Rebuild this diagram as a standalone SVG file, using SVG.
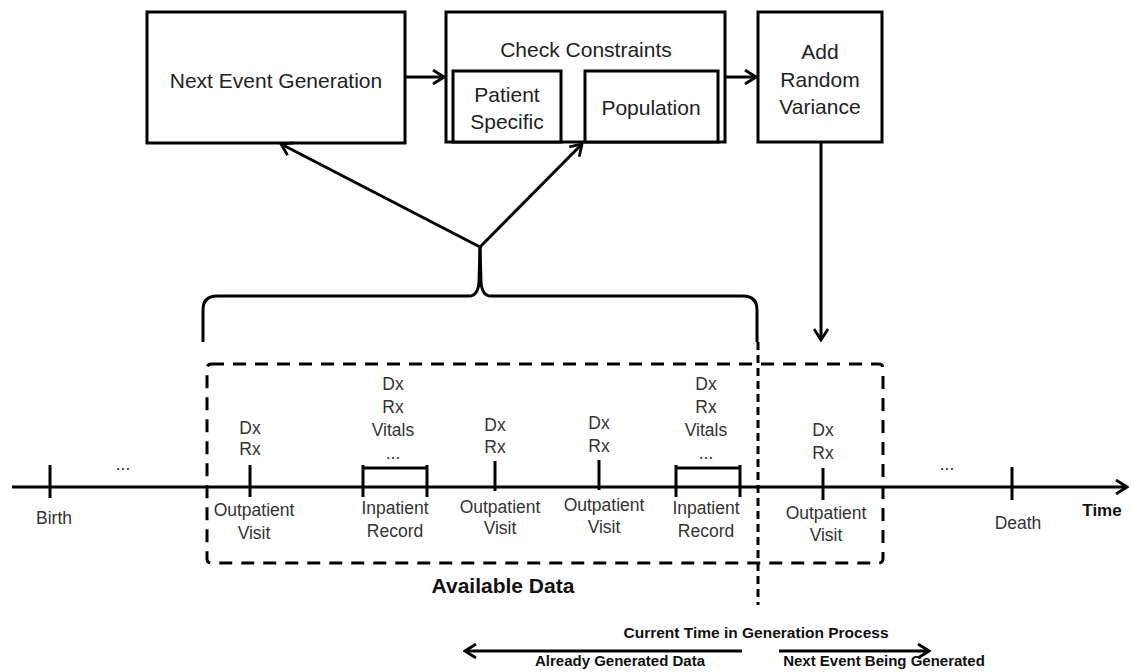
<svg xmlns="http://www.w3.org/2000/svg" width="1131" height="672" viewBox="0 0 1131 672">
<defs>
<marker id="arr" viewBox="0 0 14 16" refX="12" refY="8" markerWidth="14" markerHeight="16" markerUnits="userSpaceOnUse" orient="auto">
<path d="M1,1 L12,8 L1,15" fill="none" stroke="#000" stroke-width="2.8"/>
</marker>
</defs>
<style>
.box{fill:#fff;stroke:#000;stroke-width:3}
.ln{fill:none;stroke:#000;stroke-width:3}
.tk{stroke:#000;stroke-width:3}
.dash{fill:none;stroke:#000;stroke-width:3;stroke-dasharray:13 9}
.bt{font-family:"Liberation Sans",Arial,sans-serif;font-size:21px;fill:#222;text-anchor:middle}
.t{font-family:"Liberation Sans",Arial,sans-serif;font-size:17.5px;fill:#333;text-anchor:middle}
.b{font-family:"Liberation Sans",Arial,sans-serif;font-weight:bold;fill:#111;text-anchor:middle}
</style>
<rect width="1131" height="672" fill="#fff"/>

<g id="next-event-generation">
<rect class="box" x="147" y="12" width="258" height="131"/>
<text class="bt" x="276" y="88">Next Event Generation</text>
</g>
<g id="check-constraints">
<rect class="box" x="446" y="12" width="279" height="130"/>
<text class="bt" x="586" y="57">Check Constraints</text>
</g>
<g id="patient-specific">
<rect class="box" x="453" y="71" width="108" height="71"/>
<text class="bt" x="507" y="102">Patient</text>
<text class="bt" x="507" y="129">Specific</text>
</g>
<g id="population">
<rect class="box" x="585" y="71" width="133" height="71"/>
<text class="bt" x="651" y="115">Population</text>
</g>
<g id="add-random-variance">
<rect class="box" x="758" y="12" width="124" height="130"/>
<text class="bt" x="820" y="59">Add</text>
<text class="bt" x="820" y="87">Random</text>
<text class="bt" x="820" y="114">Variance</text>
</g>

<g id="connectors">
<line class="ln" x1="405" y1="77" x2="444" y2="77" marker-end="url(#arr)"/>
<line class="ln" x1="725" y1="77" x2="756" y2="77" marker-end="url(#arr)"/>
<line class="ln" x1="821" y1="142" x2="821" y2="340" marker-end="url(#arr)"/>
<line class="ln" x1="480" y1="247" x2="281" y2="144" marker-end="url(#arr)"/>
<line class="ln" x1="480" y1="247" x2="582" y2="144" marker-end="url(#arr)"/>
<path class="ln" d="M203,342 L203,310 Q203,296 217,296 L469,296 Q478,296 479,282 L480,247"/>
<path class="ln" d="M757,342 L757,310 Q757,296 743,296 L491,296 Q482,296 481,282 L480,247"/>
<line class="ln" x1="742" y1="651" x2="465" y2="651" marker-end="url(#arr)"/>
<line class="ln" x1="779" y1="651" x2="929" y2="651" marker-end="url(#arr)"/>
</g>

<g id="available-data">
<rect class="dash" x="207" y="364" width="676" height="199" rx="4"/>
<text class="b" x="503" y="593" font-size="21">Available Data</text>
</g>

<g id="timeline">
<line class="ln" x1="12" y1="487" x2="1127" y2="487" marker-end="url(#arr)"/>
<text class="b" x="1102" y="516" font-size="17">Time</text>
</g>

<g id="birth">
<line class="tk" x1="50" y1="465" x2="50" y2="498"/>
<text class="t" x="54" y="524">Birth</text>
<text class="t" x="123" y="470">...</text>
</g>

<g id="outpatient-1">
<line class="tk" x1="250" y1="465" x2="250" y2="497"/>
<text class="t" x="250" y="434">Dx</text>
<text class="t" x="250" y="455">Rx</text>
<text class="t" x="254" y="516">Outpatient</text>
<text class="t" x="254" y="539">Visit</text>
</g>

<g id="inpatient-1">
<line class="tk" x1="363" y1="465" x2="363" y2="497"/>
<line class="tk" x1="427" y1="465" x2="427" y2="497"/>
<line class="tk" x1="363" y1="468" x2="427" y2="468"/>
<text class="t" x="393" y="390">Dx</text>
<text class="t" x="393" y="413">Rx</text>
<text class="t" x="393" y="436">Vitals</text>
<text class="t" x="393" y="459" font-size="12">...</text>
<text class="t" x="395" y="514">Inpatient</text>
<text class="t" x="395" y="537">Record</text>
</g>

<g id="outpatient-2">
<line class="tk" x1="495" y1="461" x2="495" y2="491"/>
<text class="t" x="495" y="431">Dx</text>
<text class="t" x="495" y="453">Rx</text>
<text class="t" x="500" y="513">Outpatient</text>
<text class="t" x="500" y="534">Visit</text>
</g>

<g id="outpatient-3">
<line class="tk" x1="599" y1="460" x2="599" y2="490"/>
<text class="t" x="599" y="429">Dx</text>
<text class="t" x="599" y="452">Rx</text>
<text class="t" x="604" y="511">Outpatient</text>
<text class="t" x="604" y="533">Visit</text>
</g>

<g id="inpatient-2">
<line class="tk" x1="676" y1="465" x2="676" y2="497"/>
<line class="tk" x1="740" y1="465" x2="740" y2="497"/>
<line class="tk" x1="676" y1="468" x2="740" y2="468"/>
<text class="t" x="706" y="390">Dx</text>
<text class="t" x="706" y="413">Rx</text>
<text class="t" x="706" y="436">Vitals</text>
<text class="t" x="706" y="459" font-size="12">...</text>
<text class="t" x="706" y="514">Inpatient</text>
<text class="t" x="706" y="537">Record</text>
</g>

<g id="outpatient-4">
<line class="tk" x1="823" y1="468" x2="823" y2="500"/>
<text class="t" x="823" y="436">Dx</text>
<text class="t" x="823" y="459">Rx</text>
<text class="t" x="826" y="519">Outpatient</text>
<text class="t" x="826" y="541">Visit</text>
</g>

<g id="death">
<text class="t" x="947" y="470">...</text>
<line class="tk" x1="1012" y1="467" x2="1012" y2="500"/>
<text class="t" x="1018" y="529">Death</text>
</g>

<g id="current-time">
<line x1="758" y1="342" x2="758" y2="605" stroke="#000" stroke-width="3" stroke-dasharray="8 5"/>
<text class="b" x="756" y="638" font-size="15.5">Current Time in Generation Process</text>
<text class="b" x="620" y="666" font-size="15">Already Generated Data</text>
<text class="b" x="884" y="666" font-size="15">Next Event Being Generated</text>
</g>
</svg>
